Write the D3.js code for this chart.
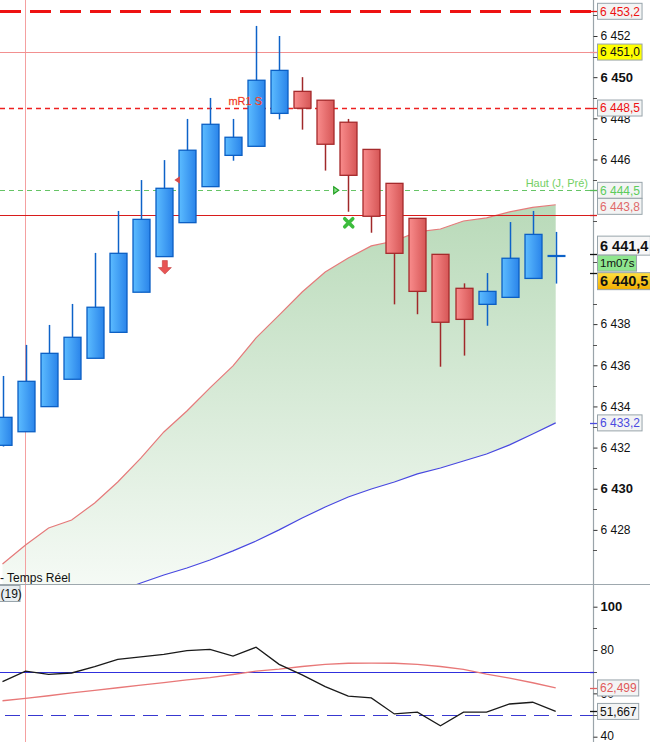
<!DOCTYPE html>
<html><head><meta charset="utf-8">
<script src="https://cdn.jsdelivr.net/npm/d3@7"></script>
<style>body{margin:0;background:#fff;overflow:hidden}svg{display:block;font-family:"Liberation Sans",Arial,sans-serif;}</style>
</head><body><svg id="c" width="650" height="742"></svg>
<script>
// ---------- DATA ----------
const opens  = [6432.11,6432.77,6433.99,6435.32,6436.34,6437.60,6439.55,6441.28,6442.93,6444.68,6446.20,6446.64,6448.24,6449.31,6448.88,6447.81,6446.49,6444.84,6443.14,6441.39,6439.74,6438.96,6439.30,6440.22,6441.31];
const highs  = [6435.48,6436.99,6437.96,6438.98,6441.46,6443.50,6445.00,6445.97,6447.97,6448.99,6447.97,6452.49,6452.00,6450.00,6448.88,6447.97,6446.49,6444.84,6443.14,6441.39,6439.98,6440.48,6442.96,6443.50,6442.48];
const lows   = [6432.05,6432.77,6433.99,6435.32,6436.34,6437.60,6439.55,6441.28,6442.93,6444.68,6445.94,6446.64,6447.95,6447.45,6445.46,6443.46,6442.44,6438.96,6438.48,6435.93,6436.47,6437.92,6439.30,6440.22,6439.97];
const closes = [6433.47,6435.22,6436.58,6437.36,6438.82,6441.44,6443.09,6444.60,6446.45,6447.71,6447.08,6449.85,6450.33,6448.49,6446.74,6445.23,6443.24,6441.44,6439.59,6438.09,6438.23,6439.59,6441.20,6442.36,6441.31];
const upperBand = [6426.34,6427.27,6428.09,6428.48,6429.31,6430.33,6431.49,6432.76,6433.78,6434.90,6435.97,6437.33,6438.44,6439.56,6440.53,6441.21,6441.80,6442.04,6442.48,6442.62,6443.01,6443.16,6443.45,6443.67,6443.80];
const lowerBand = [6422.60,6423.10,6423.60,6424.10,6424.55,6425.00,6425.42,6425.81,6426.15,6426.54,6426.98,6427.46,6428.00,6428.58,6429.11,6429.60,6429.99,6430.33,6430.72,6431.01,6431.35,6431.69,6432.13,6432.66,6433.20];
const stochK = [65.4,70.3,68.8,69.4,72.3,75.7,76.8,78.0,79.7,80.3,77.2,81.3,73.4,68.5,63.1,58.7,57.9,50.5,51.3,45.0,51.3,51.3,55.1,55.9,51.667];
const stochD = [56.6,57.7,58.9,60.2,61.4,62.6,63.8,65.0,66.2,67.3,68.7,70.3,71.2,72.4,73.4,73.9,74.0,73.9,73.4,72.4,71.1,68.9,67.0,64.9,62.499];
const priceTicks = [6428,6430,6432,6434,6436,6438,6446,6448,6450,6452];
const priceMinor = [6427,6429,6431,6433,6435,6437,6439,6441,6443,6445,6447,6449,6451,6453];
const oscTicks = [40,60,80,100];
const oscMinor = [50,70,90];
const levelValues = [6453.2, 6451.22, 6448.5, 6444.5, 6443.3];
const levelLabels = ["6 453,2", "6 451,0", "6 448,5", "6 444,5", ""];
const levelNames = ["", "", "mR1 S", "Haut (J, Pré)", ""];
const oscLevels = [70, 50];
const lastPrice = 6441.4, bidPrice = 6440.5, timerText = "1m07s";
const legendTexts = ["- Temps Réel", "(19)"];

// ---------- SETUP ----------
const svg = d3.select("#c");
const W = 650, AX = 593, SEP = 584.5;
const x = d3.scaleLinear().domain([0, 24]).range([2.5, 555.7]);
const y = d3.scaleLinear().domain([6452, 6428]).range([36, 529.9]);
const yo = d3.scaleLinear().domain([100, 40]).range([606.7, 736.7]);
const fmt = v => { const s = v.toFixed(1).replace('.', ','); return s.replace(/^(\d)(\d{3})/, '$1 $2'); };
const fmtI = v => String(v).replace(/^(\d)(\d{3})$/, '$1 $2');

const defs = svg.append("defs");
const lg = (id, x2, y2, stops, units) => {
  const g = defs.append("linearGradient").attr("id", id).attr("x1", 0).attr("y1", 0).attr("x2", x2).attr("y2", y2);
  if (units) g.attr("gradientUnits", "userSpaceOnUse").attr("x1", units[0]).attr("y1", units[1]).attr("x2", units[2]).attr("y2", units[3]);
  stops.forEach((c, i) => g.append("stop").attr("offset", i / (stops.length - 1)).attr("stop-color", c));
};
lg("gBlue", 1, 0, ["#5cbcff", "#2a84ea"]);
lg("gRed", 1, 0, ["#f98c8c", "#d65656"]);
lg("gFill", 0, 1, ["#b9dab9", "#f5faf5"], [0, 206, 0, 585]);
lg("gGold", 0, 1, ["#ffe040", "#f2ad00"]);
defs.append("clipPath").attr("id", "cpMain").append("rect").attr("x", 0).attr("y", 0).attr("width", AX).attr("height", SEP);
defs.append("clipPath").attr("id", "cpOsc").append("rect").attr("x", 0).attr("y", SEP).attr("width", AX).attr("height", 742 - SEP);

// vertical pink marker line (behind everything)
svg.append("line").attr("x1", 25.5).attr("x2", 25.5).attr("y1", 0).attr("y2", 742).attr("stroke", "#f4a0a0").attr("stroke-width", 1);

const main = svg.append("g").attr("clip-path", "url(#cpMain)");
const osc = svg.append("g").attr("clip-path", "url(#cpOsc)");

// band fill
const idx = d3.range(upperBand.length);
main.append("path").datum(idx)
  .attr("d", d3.area().x(i => x(i)).y0(i => y(lowerBand[i])).y1(i => y(upperBand[i])))
  .attr("fill", "url(#gFill)");
main.append("line").attr("x1", 25.5).attr("x2", 25.5).attr("y1", 0).attr("y2", SEP).attr("stroke", "#f4a0a0").attr("stroke-width", 1);
main.append("path").datum(idx).attr("d", d3.line().x(i => x(i)).y(i => y(upperBand[i])))
  .attr("fill", "none").attr("stroke", "#e57a7a").attr("stroke-width", 1.2);
main.append("path").datum(idx).attr("d", d3.line().x(i => x(i)).y(i => y(lowerBand[i])))
  .attr("fill", "none").attr("stroke", "#4848e0").attr("stroke-width", 1.2);

// level lines
const levelStyles = [
  {stroke: "#ee1111", w: 3, dash: "21,9"},
  {stroke: "#f29090", w: 1, dash: null},
  {stroke: "#ee2020", w: 1.4, dash: "5,4"},
  {stroke: "#66c466", w: 1.2, dash: "5,4"},
  {stroke: "#d81c1c", w: 1, dash: null}
];
levelValues.forEach((v, i) => {
  const s = levelStyles[i];
  main.append("line").attr("x1", 0).attr("x2", AX).attr("y1", Math.round(y(v)) + 0.5).attr("y2", Math.round(y(v)) + 0.5)
    .attr("stroke", s.stroke).attr("stroke-width", s.w).attr("stroke-dasharray", s.dash);
});

// candles
const bw = 17;
idx.forEach(i => {
  const o = opens[i], c = closes[i], h = highs[i], l = lows[i];
  const cx = Math.round(x(i)) + 0.5;
  if (o === c) {
    main.append("line").attr("x1", cx).attr("x2", cx).attr("y1", y(h)).attr("y2", y(l)).attr("stroke", "#0d62c8").attr("stroke-width", 1.5);
    main.append("line").attr("x1", cx - 9).attr("x2", cx + 9).attr("y1", y(c)).attr("y2", y(c)).attr("stroke", "#0d62c8").attr("stroke-width", 2.2);
    return;
  }
  const up = c > o;
  const wick = up ? "#0d62c8" : "#a0282a";
  main.append("line").attr("x1", cx).attr("x2", cx).attr("y1", y(h)).attr("y2", y(l)).attr("stroke", wick).attr("stroke-width", 1.5);
  const top = y(Math.max(o, c)), bot = y(Math.min(o, c));
  main.append("rect").attr("x", cx - bw / 2).attr("y", top).attr("width", bw).attr("height", Math.max(1, bot - top))
    .attr("fill", up ? "url(#gBlue)" : "url(#gRed)").attr("stroke", up ? "#0b5fc4" : "#a52a2c").attr("stroke-width", 1.3);
});

// level texts
main.append("text").attr("x", 262).attr("y", y(levelValues[2]) - 3).attr("text-anchor", "end")
  .attr("font-size", 11).attr("fill", "#ee2a2a").attr("stroke", "#ffd070").attr("stroke-width", 0.35)
  .attr("paint-order", "stroke").text(levelNames[2]);
main.append("text").attr("x", 588).attr("y", y(levelValues[3]) - 3).attr("text-anchor", "end")
  .attr("font-size", 11).attr("fill", "#74d064").text(levelNames[3]);

// markers
{
  const ax = x(7) + 1, ay = y(lows[7]) + 4;
  main.append("path").attr("d", `M${ax-2.5},${ay} h5 v7 h4 l-6.5,6.5 l-6.5,-6.5 h4 z`).attr("fill", "#e85454").attr("stroke", "#c03a3a").attr("stroke-width", 0.6);
  const tx = x(7.5) + 2, ty = y(6445.0);
  main.append("path").attr("d", `M${tx+2.5},${ty-3.8} L${tx-3},${ty} L${tx+2.5},${ty+3.8} Z`).attr("fill", "#d84a4a");
  const gx = x(14.5) - 0.5, gy = y(levelValues[3]);
  main.append("path").attr("d", `M${gx-2.5},${gy-3.5} L${gx+2.5},${gy} L${gx-2.5},${gy+3.5} Z`).attr("fill", "#8ee08e").attr("stroke", "#22a022").attr("stroke-width", 1.2);
  const xx = x(15) + 0.5, xy = y(lows[15]) + 11;
  main.append("path").attr("d", `M${xx-4},${xy-4} L${xx+4},${xy+4} M${xx+4},${xy-4} L${xx-4},${xy+4}`).attr("stroke", "#3cbc3c").attr("stroke-width", 3.6).attr("stroke-linecap", "round");
}

// legend text
main.append("text").attr("x", 0).attr("y", 582).attr("font-size", 12).attr("fill", "#111").text(legendTexts[0]);

// ---------- OSCILLATOR ----------
osc.append("line").attr("x1", 0).attr("x2", AX).attr("y1", Math.round(yo(oscLevels[0])) + 0.5).attr("y2", Math.round(yo(oscLevels[0])) + 0.5).attr("stroke", "#3030dd").attr("stroke-width", 1.2);
osc.append("line").attr("x1", 5).attr("x2", AX).attr("y1", Math.round(yo(oscLevels[1])) + 0.5).attr("y2", Math.round(yo(oscLevels[1])) + 0.5).attr("stroke", "#3838d0").attr("stroke-width", 1.2).attr("stroke-dasharray", "15,8");
osc.append("path").datum(idx).attr("d", d3.line().x(i => x(i)).y(i => yo(stochD[i])))
  .attr("fill", "none").attr("stroke", "#e87878").attr("stroke-width", 1.3);
osc.append("path").datum(idx).attr("d", d3.line().x(i => x(i)).y(i => yo(stochK[i])))
  .attr("fill", "none").attr("stroke", "#1a1a1a").attr("stroke-width", 1.3);

// separator
svg.append("line").attr("x1", 0).attr("x2", W).attr("y1", SEP).attr("y2", SEP).attr("stroke", "#9ea8ae").attr("stroke-width", 1.2);
svg.append("rect").attr("x", -1).attr("y", 585.5).attr("width", 21).attr("height", 16).attr("fill", "#e7edf0").attr("stroke", "#98a4ab");
svg.append("text").attr("x", 0.5).attr("y", 598).attr("font-size", 12).attr("fill", "#111").text(legendTexts[1]);

// ---------- AXES ----------
svg.append("line").attr("x1", AX + 0.5).attr("x2", AX + 0.5).attr("y1", 0).attr("y2", 742).attr("stroke", "#9aa4aa").attr("stroke-width", 1.2);
const styleAxis = (g, boldTest) => {
  g.select(".domain").remove();
  g.selectAll(".tick line").attr("stroke", "#333");
  g.selectAll(".tick text").attr("font-family", "Liberation Sans, Arial, sans-serif").attr("fill", "#111")
    .attr("font-size", d => boldTest(d) ? 13 : 12).attr("font-weight", d => boldTest(d) ? "bold" : "normal");
};
const pa = svg.append("g").attr("transform", `translate(${AX + 0.5},0)`)
  .call(d3.axisRight(y).tickValues(priceTicks).tickSize(4).tickPadding(3).tickFormat(fmtI));
styleAxis(pa, d => d % 10 === 0);
priceMinor.forEach(v => svg.append("line").attr("x1", AX).attr("x2", AX + 4).attr("y1", Math.round(y(v)) + 0.5).attr("y2", Math.round(y(v)) + 0.5).attr("stroke", "#555"));
const oa = svg.append("g").attr("transform", `translate(${AX + 0.5},0)`)
  .call(d3.axisRight(yo).tickValues(oscTicks).tickSize(4).tickPadding(3));
styleAxis(oa, d => d === 100);
oa.selectAll(".tick text").filter(d => d === 40).attr("dy", "0.2em");
oscMinor.forEach(v => svg.append("line").attr("x1", AX).attr("x2", AX + 4).attr("y1", Math.round(yo(v)) + 0.5).attr("y2", Math.round(yo(v)) + 0.5).attr("stroke", "#555"));

// ---------- VALUE LABELS ----------
function tag(v, cy, text, opt) {
  const g = svg.append("g");
  const t = g.append("text").attr("x", 600).attr("y", cy).attr("dy", "0.36em")
    .attr("font-size", opt.size || 12).attr("font-weight", opt.bold ? "bold" : "normal").attr("fill", opt.color || "#111").text(text);
  const w = t.node().getComputedTextLength();
  const h = opt.h || 16;
  g.insert("rect", "text").attr("x", 597.5).attr("y", cy - h / 2).attr("width", w + 4.5).attr("height", h)
    .attr("fill", opt.bg || "#f3f4f4").attr("stroke", "#98a4ab").attr("stroke-width", 1);
  if (opt.tick) svg.append("line").attr("x1", AX - 3).attr("x2", AX + 4).attr("y1", Math.round(v) + 0.5).attr("y2", Math.round(v) + 0.5).attr("stroke", opt.tick).attr("stroke-width", 1.3);
}
tag(y(levelValues[0]), y(levelValues[0]), levelLabels[0], {color: "#ee1111", tick: "#ee1111"});
tag(y(levelValues[1]), y(levelValues[1]), levelLabels[1], {color: "#111", bg: "#ffff00", tick: "#f29090"});
tag(y(levelValues[2]), y(levelValues[2]), levelLabels[2], {color: "#ee1111", tick: "#ee2020"});
tag(y(levelValues[3]), y(levelValues[3]), levelLabels[3], {color: "#5ccc5c", tick: "#55bb55"});
svg.append("line").attr("x1", AX - 3).attr("x2", AX + 4).attr("y1", Math.round(y(levelValues[4])) + 0.5).attr("y2", Math.round(y(levelValues[4])) + 0.5).attr("stroke", "#d81c1c").attr("stroke-width", 1.3);
tag(y(upperBand[24]), y(levelValues[3]) + 16, fmt(upperBand[24]), {color: "#e06a6a"});
const yl = y(lastPrice), yb = y(bidPrice);
tag(yl, yl - 8.5, fmt(lastPrice), {bold: true, size: 14.5, h: 19, bg: "#f7f7f7", tick: "#111"});
tag(yl, yl + 9, timerText, {size: 11.5, h: 16, bg: "#8fe68f", color: "#111"});
tag(yb, yb + 8.5, fmt(bidPrice), {bold: true, size: 14.5, h: 17, bg: "url(#gGold)", tick: "#111"});
tag(y(lowerBand[24]), y(lowerBand[24]), fmt(lowerBand[24]), {color: "#4a4ae0", tick: "#4a4ae0"});

const fmt3 = v => v.toFixed(3).replace('.', ',');
tag(yo(stochD[24]), yo(stochD[24]), fmt3(stochD[24]), {color: "#e05a5a", tick: "#e06060"});
tag(yo(stochK[24]), yo(stochK[24]), fmt3(stochK[24]), {color: "#111", tick: "#111"});
svg.append("line").attr("x1", AX - 3).attr("x2", AX + 1).attr("y1", Math.round(yo(oscLevels[0])) + 0.5).attr("y2", Math.round(yo(oscLevels[0])) + 0.5).attr("stroke", "#3030dd").attr("stroke-width", 1.3);
</script></body></html>
